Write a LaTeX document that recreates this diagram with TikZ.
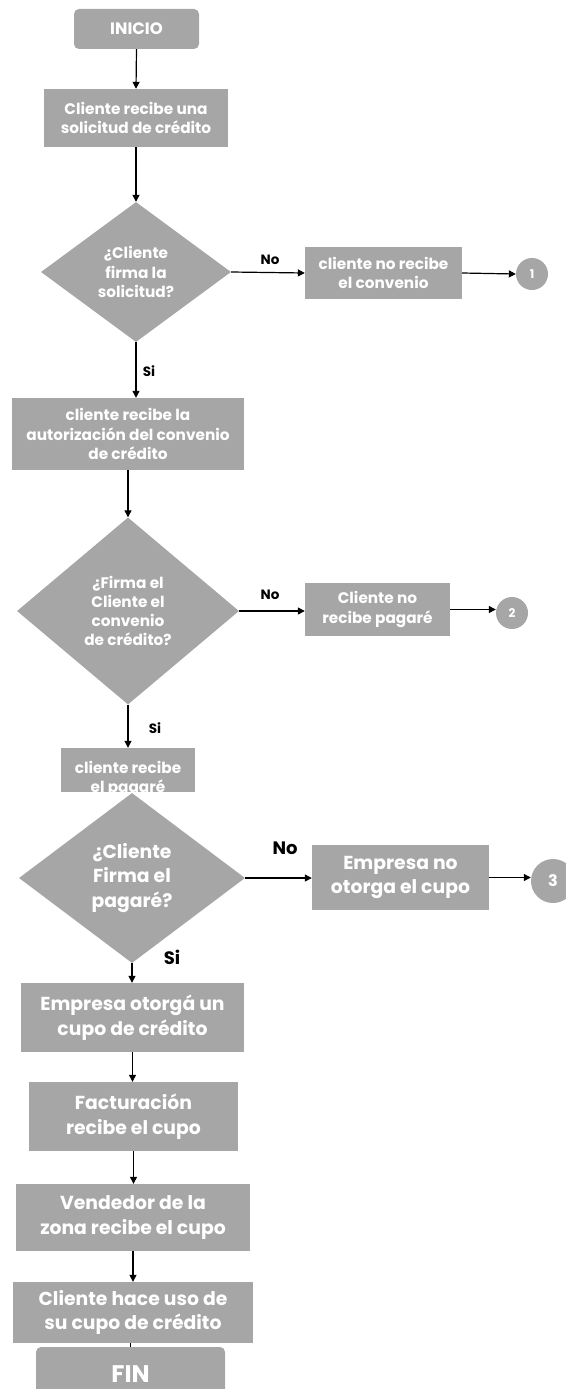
\documentclass[tikz,border=0pt]{standalone}
\usepackage{fontspec}
\setmainfont{Poppins}
\usetikzlibrary{arrows.meta,shapes.geometric}
\definecolor{boxgray}{HTML}{A6A6A6}
\newcommand{\smallbf}{\fontsize{15.3}{19.2}\selectfont\bfseries}
\newcommand{\largebf}{\fontsize{18.8}{24.5}\selectfont\bfseries}
\tikzset{
  base/.style={fill=boxgray, text=white, align=center, inner sep=0pt},
  proc/.style={base, rectangle},
  term/.style={base, rectangle, rounded corners=5pt},
  decision/.style={base, diamond},
  connector/.style={base, circle},
  flow/.style={draw=black, line width=1.2pt, -{Triangle[length=7pt,width=7pt]}},
  plainline/.style={draw=black, line width=1pt},
  lbl/.style={text=black, inner sep=0pt},
}
\begin{document}
\begin{tikzpicture}[x=1pt, y=-1pt]
\useasboundingbox (0,0) rectangle (565,1389);

% upper part
\node[term, font=\fontsize{16.5}{19}\selectfont\bfseries, minimum width=125pt, minimum height=40pt] (ini) at (136.5,29) {INICIO};
\node[proc, font=\smallbf, minimum width=184pt, minimum height=58pt] (b1) at (136,118)
  {Cliente recibe una\\solicitud de crédito};
\node[decision, font=\smallbf, aspect=1.357, minimum width=190pt, minimum height=140pt] (d1) at (136,272)
  {¿Cliente\\firma la\\solicitud?};
\node[proc, font=\smallbf, minimum width=157pt, minimum height=52pt] (n1) at (383.5,273)
  {cliente no recibe\\el convenio};
\node[connector, font=\fontsize{12}{14}\selectfont\bfseries, minimum size=32pt] (c1) at (532,274) {1};

\node[proc, font=\smallbf, minimum width=232pt, minimum height=72pt] (b2) at (128,434)
  {cliente recibe la\\autorización del convenio\\de crédito};
\node[decision, font=\smallbf, aspect=1.187, minimum width=222pt, minimum height=187pt] (d2) at (128,611)
  {¿Firma el\\Cliente el\\convenio\\de crédito?};
\node[proc, font=\smallbf, minimum width=145pt, minimum height=53pt] (n2) at (377.5,609.5)
  {Cliente no\\recibe pagaré};
\node[connector, font=\fontsize{12}{14}\selectfont\bfseries, minimum size=32pt] (c2) at (512,613) {2};

% box whose lower edge is cut off by the next decision
\begin{scope}
  \clip (0,748) rectangle (565,791);
  \node[proc, font=\smallbf, minimum width=134pt, minimum height=62pt] (b3) at (128,779)
    {cliente recibe\\el pagaré};
\end{scope}

% lower part
\node[decision, font=\largebf, aspect=1.33, minimum width=226pt, minimum height=170pt] (d3) at (132,878)
  {¿Cliente\\Firma el\\pagaré?};
\node[proc, font=\largebf, minimum width=177pt, minimum height=65pt] (n3) at (400.5,877.5)
  {Empresa no\\otorga el cupo};
\node[connector, font=\fontsize{16}{18}\selectfont\bfseries, minimum size=44pt] (c3) at (553,881) {3};

\node[proc, font=\largebf, minimum width=223pt, minimum height=69pt] (b5) at (132.5,1017.5)
  {Empresa otorgá un\\cupo de crédito};
\node[proc, font=\largebf, minimum width=209pt, minimum height=69pt] (b6) at (133.5,1116.5)
  {Facturación\\recibe el cupo};
\node[proc, font=\largebf, minimum width=234pt, minimum height=67pt] (b7) at (133,1217.5)
  {Vendedor de la\\zona recibe el cupo};
\node[proc, font=\largebf, minimum width=240pt, minimum height=61pt] (b8) at (133,1312.5)
  {Cliente hace uso de\\su cupo de crédito};
\node[term, font=\fontsize{24}{28}\selectfont\bfseries, minimum width=189pt, minimum height=64pt] (fin) at (130.5,1379)
  {\raisebox{10pt}{FIN}};

% connectors
\draw[flow] (ini.south) -- (b1.north);
\draw[flow] (b1.south) -- (d1.north);
\draw[flow] (d1.east) -- (n1.west);
\draw[flow] (n1.east) -- (c1.west);
\draw[flow] (d1.south) -- (d1.south |- b2.north);
\draw[flow] (b2.south) -- (b2.south |- d2.north);
\draw[flow] (d2.east) -- (d2.east -| n2.west);
\draw[flow] (n2.east) -- (n2.east -| c2.west);
\draw[flow] (d2.south) -- (d2.south |- b3.north);
\draw[flow] (d3.east) -- (d3.east -| n3.west);
\draw[flow] (n3.east) -- (n3.east -| c3.west);
\draw[flow] (d3.south) -- (d3.south |- b5.north);
\draw[flow] (b5.south) -- (b5.south |- b6.north);
\draw[flow] (b6.south) -- (b6.south |- b7.north);
\draw[flow] (b7.south) -- (b7.south |- b8.north);
\draw[plainline] (fin.north |- b8.south) -- (fin.north);

% branch labels
\node[lbl, font=\fontsize{13.5}{15}\selectfont\bfseries] (no1) at (270,260) {No};
\node[lbl, font=\fontsize{13.5}{15}\selectfont\bfseries] (si1) at (149,371) {Si};
\node[lbl, font=\fontsize{13.5}{15}\selectfont\bfseries] (no2) at (270,595) {No};
\node[lbl, font=\fontsize{13.5}{15}\selectfont\bfseries] (si2) at (155,728) {Si};
\node[lbl, font=\fontsize{18}{20}\selectfont\bfseries] (no3) at (285,848) {No};
\node[lbl, font=\fontsize{18}{20}\selectfont\bfseries] (si3) at (172,957) {Si};
\end{tikzpicture}
\end{document}
